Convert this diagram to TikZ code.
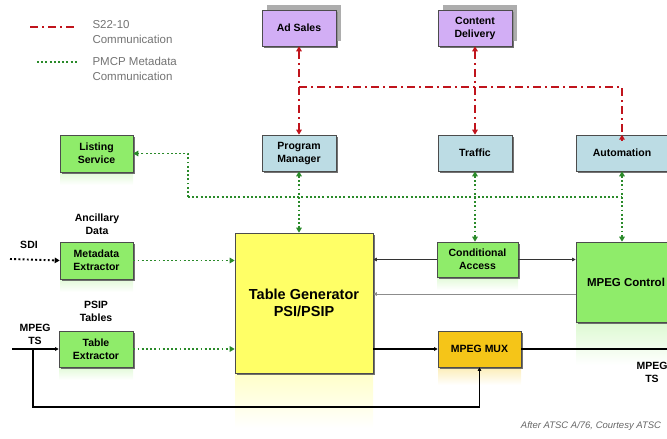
\documentclass[tikz,border=0pt]{standalone}
\usepackage{fontspec}
\setmainfont{Liberation Sans}
\usetikzlibrary{arrows.meta,shadows}
\definecolor{cpurple}{HTML}{D2AEF5}
\definecolor{cblue}{HTML}{BCDCE4}
\definecolor{cgreen}{HTML}{8FEC6A}
\definecolor{cyellow}{HTML}{FFFF66}
\definecolor{cgold}{HTML}{F5C518}
\definecolor{cred}{HTML}{C0141C}
\definecolor{cdgreen}{HTML}{2A8A2A}
\tikzset{
  box/.style={draw=black!70, line width=0.6pt, align=center, inner sep=1pt,
    font=\fontsize{10.5}{13}\selectfont\bfseries,
    drop shadow={shadow xshift=1.8pt, shadow yshift=-1.8pt, fill=black!65, opacity=0.85}},
  pbox/.style={box, fill=cpurple,
    drop shadow={shadow xshift=5pt, shadow yshift=5pt, fill=black!40, opacity=0.8}},
  bbox/.style={box, fill=cblue},
  gbox/.style={box, fill=cgreen},
  tip/.style={-{Triangle[width=5.5pt,length=5pt]}},
  tips/.style={{Triangle[width=5.5pt,length=5pt]}-{Triangle[width=5.5pt,length=5pt]}},
  stip/.style={-{Triangle[width=3.5pt,length=3.5pt]}},
  rdash/.style={cred, line width=2.2pt, dash pattern=on 8pt off 4pt on 2pt off 4pt},
  gdot/.style={cdgreen, line width=1.9pt, dash pattern=on 1.9pt off 2.3pt},
  lbl/.style={font=\fontsize{10.5}{13}\selectfont\bfseries, align=center},
  leg/.style={font=\fontsize{11.5}{14.5}\selectfont, text=black!55, align=left, anchor=west},
  refl/.style={top color=#1, bottom color=white, draw=none}
}
\begin{document}
\begin{tikzpicture}[x=1pt,y=-1pt]
\useasboundingbox (0,0) rectangle (667,439);
\clip (0,0) rectangle (667,439);
% reflections
\shade[refl=cyellow!35] (235,374) rectangle (373,428);
\shade[refl=cgreen!30] (576,323) rectangle (667,365);
\shade[refl=cgold!30] (438,368) rectangle (521,385);
\shade[refl=cgreen!25] (60,280) rectangle (133,292);
\shade[refl=cgreen!25] (59,368) rectangle (133,380);
\shade[refl=cgreen!25] (60,173) rectangle (133,185);
\shade[refl=cgreen!25] (437,278) rectangle (518,290);
% legend
\coordinate (l1a) at (30,27); \coordinate (l1b) at (76,27);
\coordinate (l2a) at (37,62); \coordinate (l2b) at (78,62);
\draw[rdash] (l1a) -- (l1b);
\draw[gdot, line width=1.5pt] (l2a) -- (l2b);
\node[leg] (leg1) at (89,32) {S22-10\\Communication};
\node[leg] (leg2) at (89,69) {PMCP Metadata\\Communication};
% boxes
\node[pbox, minimum width=74pt, minimum height=36pt] (adsales) at (299,28) {Ad Sales};
\node[pbox, minimum width=74pt, minimum height=36pt] (cd) at (475,28) {Content\\Delivery};
\node[bbox, minimum width=74pt, minimum height=36pt] (pm) at (299,153) {Program\\Manager};
\node[bbox, minimum width=74pt, minimum height=36pt] (traffic) at (475,153) {Traffic};
\node[bbox, minimum width=92pt, minimum height=36pt] (auto) at (622,153) {Automation};
\node[gbox, minimum width=73pt, minimum height=37pt] (listing) at (96.5,153.5) {Listing\\Service};
\node[box, fill=cyellow, minimum width=138pt, minimum height=140pt,
  font=\fontsize{14.5}{17}\selectfont\bfseries] (tg) at (304,303) {Table Generator\\PSI/PSIP};
\node[gbox, minimum width=81pt, minimum height=35pt] (ca) at (477.5,259.5) {Conditional\\Access};
\node[gbox, minimum width=100pt, minimum height=80pt, font=\fontsize{11.5}{14}\selectfont\bfseries] (mpc) at (626,282) {MPEG Control};
\node[gbox, minimum width=73pt, minimum height=37pt] (me) at (96.5,260.5) {Metadata\\Extractor};
\node[gbox, minimum width=74pt, minimum height=36pt] (te) at (96,349) {Table\\Extractor};
\node[box, fill=cgold, minimum width=83pt, minimum height=36pt] (mux) at (479.5,349) {MPEG MUX};
% labels
\node[lbl] (anc) at (97,224) {Ancillary\\Data};
\node[lbl] (sdilbl) at (29,245) {SDI};
\node[lbl] (psip) at (96,311) {PSIP\\Tables};
\node[lbl] (tsinl) at (35,334) {MPEG\\TS};
\node[lbl] (tsoutl) at (652,372) {MPEG\\TS};
\node[font=\fontsize{9.5}{11}\selectfont\itshape, text=black!60] (cap) at (591,426) {After ATSC A/76, Courtesy ATSC};
% red S22-10 links
\coordinate (rj) at (299,87);
\draw[rdash] (rj) -| (auto.north);
\draw[rdash, tips] (adsales.south) -- (pm.north);
\draw[rdash, tips] (cd.south) -- (traffic.north);
\draw[cred, line width=2.2pt, tip] ([yshift=-6pt]auto.north) -- (auto.north);
% green metadata bus
\coordinate (busL) at (188,197); \coordinate (busR) at (622,197);
\draw[gdot] (busL) -- (busR);
\draw[gdot, tip] (busL) |- (listing.east);
\draw[gdot, tips] (pm.south) -- (pm.south |- tg.north);
\draw[gdot, tips] (traffic.south) -- (traffic.south |- ca.north);
\draw[gdot, tips] (auto.south) -- (auto.south |- mpc.north);
\draw[gdot, tip] (me.east) -- (me.east -| tg.west);
\draw[gdot, tip] (te.east) -- (te.east -| tg.west);
% solid signal lines
\coordinate (sdi) at (10,259);
\draw[black, line width=1.9pt, dash pattern=on 1.9pt off 2.3pt, tip] (sdi) -- (me.west);
\draw[black!80, line width=0.9pt, stip] (ca.west) -- (ca.west -| tg.east);
\draw[black!80, line width=0.9pt, stip] (ca.east) -- (ca.east -| mpc.west);
\coordinate (y294) at (0,294);
\draw[black!45, line width=0.9pt, stip] (mpc.west |- y294) -- (tg.east |- y294);
\coordinate (tsin) at (12,349);
\coordinate (br) at (33,349);
\coordinate (bot) at (33,407);
\coordinate (tsout) at (667,349);
\draw[black, line width=1.1pt, stip] (tsin) -- (te.west);
\draw[black, line width=1.6pt, stip] (br) -- (bot) -| (mux.south);
\draw[black, line width=1.1pt, stip] (tg.east |- mux.west) -- (mux.west);
\draw[black, line width=1.1pt] (mux.east) -- (tsout);
\end{tikzpicture}
\end{document}
